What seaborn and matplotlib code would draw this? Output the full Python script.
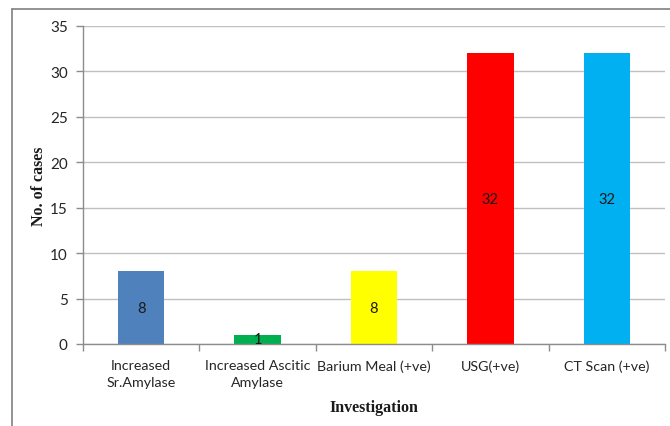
import matplotlib
matplotlib.use("Agg")
import matplotlib.pyplot as plt
from matplotlib.lines import Line2D
from matplotlib.ticker import FixedLocator
import seaborn as sns
import pandas as pd

categories = ["Increased\nSr.Amylase", "Increased Ascitic\nAmylase", "Barium Meal (+ve)",
              "USG(+ve)", "CT Scan (+ve)"]
cases = [8, 1, 8, 32, 32]
colors = ["#4F81BD", "#00B050", "#FFFF00", "#FF0000", "#00B0F0"]
y_ticks = [0, 5, 10, 15, 20, 25, 30, 35]

sns.set_theme(style="white")
plt.rcParams["font.family"] = ["Lato", "DejaVu Sans"]

df = pd.DataFrame({"Investigation": categories, "cases": cases})

fig = plt.figure(figsize=(6.7, 4.27), dpi=100)
ax = fig.add_axes([83 / 670, 1 - 345 / 427, (665 - 83) / 670, (345 - 27) / 427])

sns.barplot(data=df, x="Investigation", y="cases", hue="Investigation",
            palette=colors, legend=False, width=0.4, ax=ax,
            edgecolor="none", linewidth=0, saturation=1)

ax.set_ylim(0, 35)
ax.set_xlim(-0.5, 4.5)
ax.set_yticks(y_ticks)
ax.yaxis.grid(True, color="#c0c0c0", linewidth=1)
ax.set_axisbelow(True)

for s in ["top", "right"]:
    ax.spines[s].set_visible(False)
for s in ["left", "bottom"]:
    ax.spines[s].set_color("#8c8c8c")
    ax.spines[s].set_linewidth(1)

ax.tick_params(axis="y", which="major", length=5, color="#8c8c8c", width=1,
               labelsize=11, labelcolor="#262626", pad=6, left=True)
ax.tick_params(axis="x", which="major", length=0, labelsize=10.3,
               labelcolor="#262626", pad=11)
ax.xaxis.set_minor_locator(FixedLocator([-0.5, 0.5, 1.5, 2.5, 3.5, 4.5]))
ax.tick_params(axis="x", which="minor", length=5, color="#8c8c8c", width=1,
               bottom=True)

for lbl in ax.get_xticklabels():
    lbl.set_linespacing(1.45)

# value labels at bar middles
for i, v in enumerate(cases):
    ax.text(i, v / 2, str(v), ha="center", va="center", fontsize=10.5,
            color="#1a1a1a", fontstyle="normal")

ax.set_xlabel("Investigation", family="Liberation Serif", fontweight="bold",
              fontsize=11.5, color="#1a1a1a", labelpad=8)
ax.set_ylabel("No. of cases", family="Liberation Serif", fontweight="bold",
              fontsize=11.5, color="#1a1a1a", labelpad=2)

# outer frame (left and top edges)
fx = 12 / 670
fy = 1 - 10 / 427
fig.add_artist(Line2D([fx, fx], [0, fy], transform=fig.transFigure,
                      color="#808080", linewidth=1.2))
fig.add_artist(Line2D([fx, 1], [fy, fy], transform=fig.transFigure,
                      color="#808080", linewidth=1.2))

fig.savefig("out.png", dpi=100)
